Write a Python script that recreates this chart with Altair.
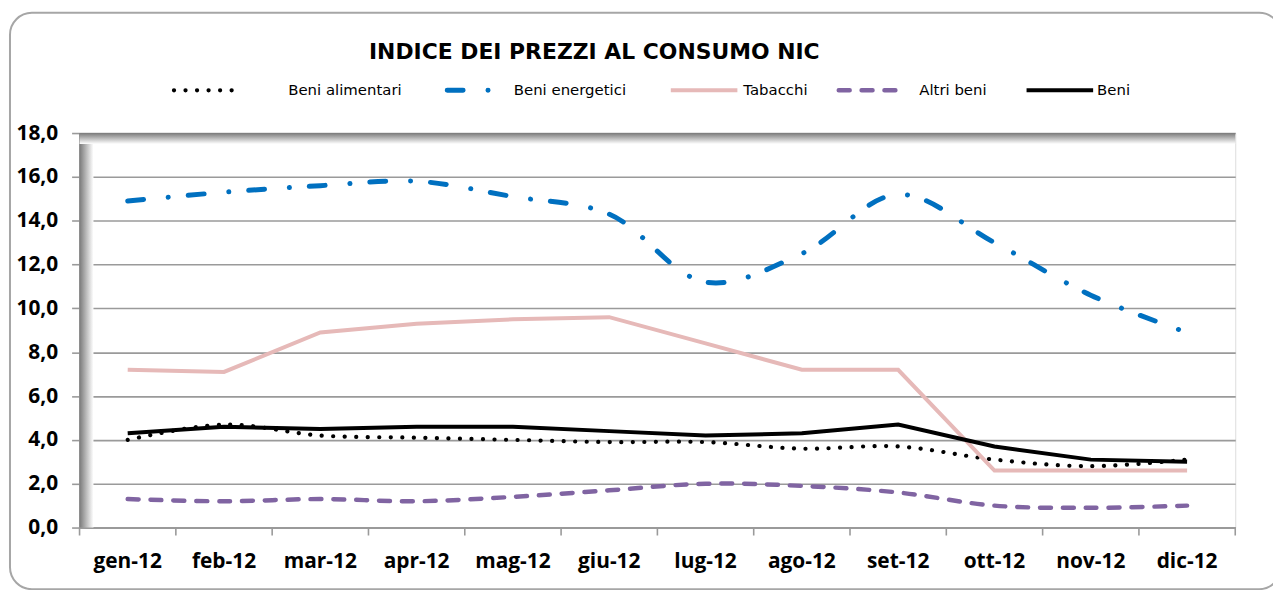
import altair as alt
import pandas as pd

# ---------------- data ----------------
mesi = ["gen-12", "feb-12", "mar-12", "apr-12", "mag-12", "giu-12",
        "lug-12", "ago-12", "set-12", "ott-12", "nov-12", "dic-12"]
serie = ["Beni alimentari", "Beni energetici", "Tabacchi", "Altri beni", "Beni"]
beni_alimentari = [4.0, 4.7, 4.2, 4.1, 4.0, 3.9, 3.9, 3.6, 3.7, 3.1, 2.8, 3.1]
beni_energetici = [14.9, 15.3, 15.6, 15.8, 15.1, 14.3, 11.2, 12.5, 15.2, 13.0, 10.6, 8.9]
tabacchi = [7.2, 7.1, 8.9, 9.3, 9.5, 9.6, 8.4, 7.2, 7.2, 2.6, 2.6, 2.6]
altri_beni = [1.3, 1.2, 1.3, 1.2, 1.4, 1.7, 2.0, 1.9, 1.6, 1.0, 0.9, 1.0]
beni = [4.3, 4.6, 4.5, 4.6, 4.6, 4.4, 4.2, 4.3, 4.7, 3.7, 3.1, 3.0]
y_ticks = [0, 2, 4, 6, 8, 10, 12, 14, 16, 18]
titolo = "INDICE DEI PREZZI AL CONSUMO NIC"

valori = [beni_alimentari, beni_energetici, tabacchi, altri_beni, beni]
rows = []
for s, vals in zip(serie, valori):
    for m, v in zip(mesi, vals):
        rows.append({"mese": m, "serie": s, "valore": v})
df = pd.DataFrame(rows)
df_mesi = pd.DataFrame({"mese": mesi})
one = pd.DataFrame({"k": [0]})

W, H = 1163, 397
GRID = "#9a9a9a"

x_axis = alt.Axis(title=None, ticks=False, labelAngle=0, grid=False,
                  labelFont="Open Sans", labelFontWeight="bold", labelFontSize=21,
                  labelColor="#000000", labelPadding=23,
                  domainColor=GRID, domainWidth=2)
x_scale = alt.Scale(type="band", paddingInner=0, paddingOuter=0)


def X(band):
    return alt.X("mese:N", sort=mesi, scale=x_scale, axis=x_axis, bandPosition=band)


Y = alt.Y("valore:Q", scale=alt.Scale(domain=[0, 18], nice=False, zero=True),
          axis=alt.Axis(title=None, values=y_ticks, grid=True, gridColor=GRID,
                        gridWidth=1.6, tickColor=GRID, tickWidth=1.6, tickSize=8,
                        domainColor=GRID, domainWidth=2,
                        labelExpr="replace(format(datum.value, '.1f'), '.', ',')",
                        labelFont="Open Sans", labelFontWeight="bold",
                        labelFontSize=21, labelColor="#000000", labelPadding=14))

# plot-area shadow (left and top)
shadow_left = alt.Chart(one).mark_rect(
    fill=alt.Gradient(gradient="linear",
                      stops=[alt.GradientStop(color="#7a7a7a", offset=0),
                             alt.GradientStop(color="#ffffff", offset=1)],
                      x1=0, x2=1, y1=0, y2=0)
).encode(x=alt.value(0), x2=alt.value(14), y=alt.value(0), y2=alt.value(H))

shadow_top = alt.Chart(one).mark_rect(
    fill=alt.Gradient(gradient="linear",
                      stops=[alt.GradientStop(color="#7a7a7a", offset=0),
                             alt.GradientStop(color="#ffffff", offset=1)],
                      x1=0, x2=0, y1=0, y2=1)
).encode(x=alt.value(0), x2=alt.value(W), y=alt.value(0), y2=alt.value(11))

# x ticks at category boundaries
xticks = alt.Chart(df_mesi).mark_rule(color=GRID, strokeWidth=1.6).encode(
    x=X(0), y=alt.value(H), y2=alt.value(H + 8))
xtick_end = alt.Chart(one).mark_rule(color=GRID, strokeWidth=1.6).encode(
    x=alt.value(W), y=alt.value(H), y2=alt.value(H + 8))

styles = {
    "Beni alimentari": dict(color="#000000", strokeWidth=4.2, strokeDash=[0.1, 11.5],
                            strokeCap="round", interpolate="catmull-rom"),
    "Beni energetici": dict(color="#0070C0", strokeWidth=5, strokeDash=[16, 25, 0.1, 20],
                            strokeCap="round", interpolate="catmull-rom"),
    "Tabacchi": dict(color="#E6B9B8", strokeWidth=4, interpolate="linear"),
    "Altri beni": dict(color="#8064A2", strokeWidth=4.5, strokeDash=[11, 12],
                       strokeCap="round", interpolate="catmull-rom"),
    "Beni": dict(color="#000000", strokeWidth=4, interpolate="linear"),
}

lines = []
for s in serie:
    lines.append(
        alt.Chart(df).transform_filter(alt.datum.serie == s)
        .mark_line(**styles[s]).encode(x=X(0.5), y=Y)
    )

# manual legend
leg_y = -43
leg_pos = {
    "Beni alimentari": (95, 156, 210),
    "Beni energetici": (370, 430, 437),
    "Tabacchi": (595, 662, 668),
    "Altri beni": (764, 832, 845),
    "Beni": (953, 1020, 1024),
}
legend_layers = []
for s in serie:
    x1, x2, xt = leg_pos[s]
    st = {k: v for k, v in styles[s].items() if k != "interpolate"}
    ldf = pd.DataFrame({"serie": [s]})
    legend_layers.append(
        alt.Chart(ldf).mark_rule(**st).encode(
            x=alt.value(x1), x2=alt.value(x2), y=alt.value(leg_y))
    )
    legend_layers.append(
        alt.Chart(ldf).mark_text(align="left", baseline="middle", font="DejaVu Sans",
                                 fontSize=15, color="#000000").encode(
            x=alt.value(xt), y=alt.value(leg_y), text="serie:N")
    )

title_layer = alt.Chart(pd.DataFrame({"t": [titolo]})).mark_text(
    align="center", baseline="middle", font="DejaVu Sans", fontWeight="bold",
    fontSize=22, color="#000000"
).encode(x=alt.value(518), y=alt.value(-82), text="t:N")

border = alt.Chart(one).mark_rect(
    fill=None, fillOpacity=0, stroke="#a6a6a6", strokeWidth=2, cornerRadius=22
).encode(x=alt.value(-70), x2=alt.value(1209), y=alt.value(-121), y2=alt.value(459))

chart = alt.layer(
    shadow_left, shadow_top, xticks, xtick_end, *lines, *legend_layers,
    title_layer, border
).properties(
    width=W, height=H,
    autosize=alt.AutoSizeParams(type="none"),
    padding={"left": 72, "top": 124, "right": 38, "bottom": 61},
).configure_view(stroke=None).configure(background="white")

chart.save("out.html", embed_options={"renderer": "svg", "actions": False})
